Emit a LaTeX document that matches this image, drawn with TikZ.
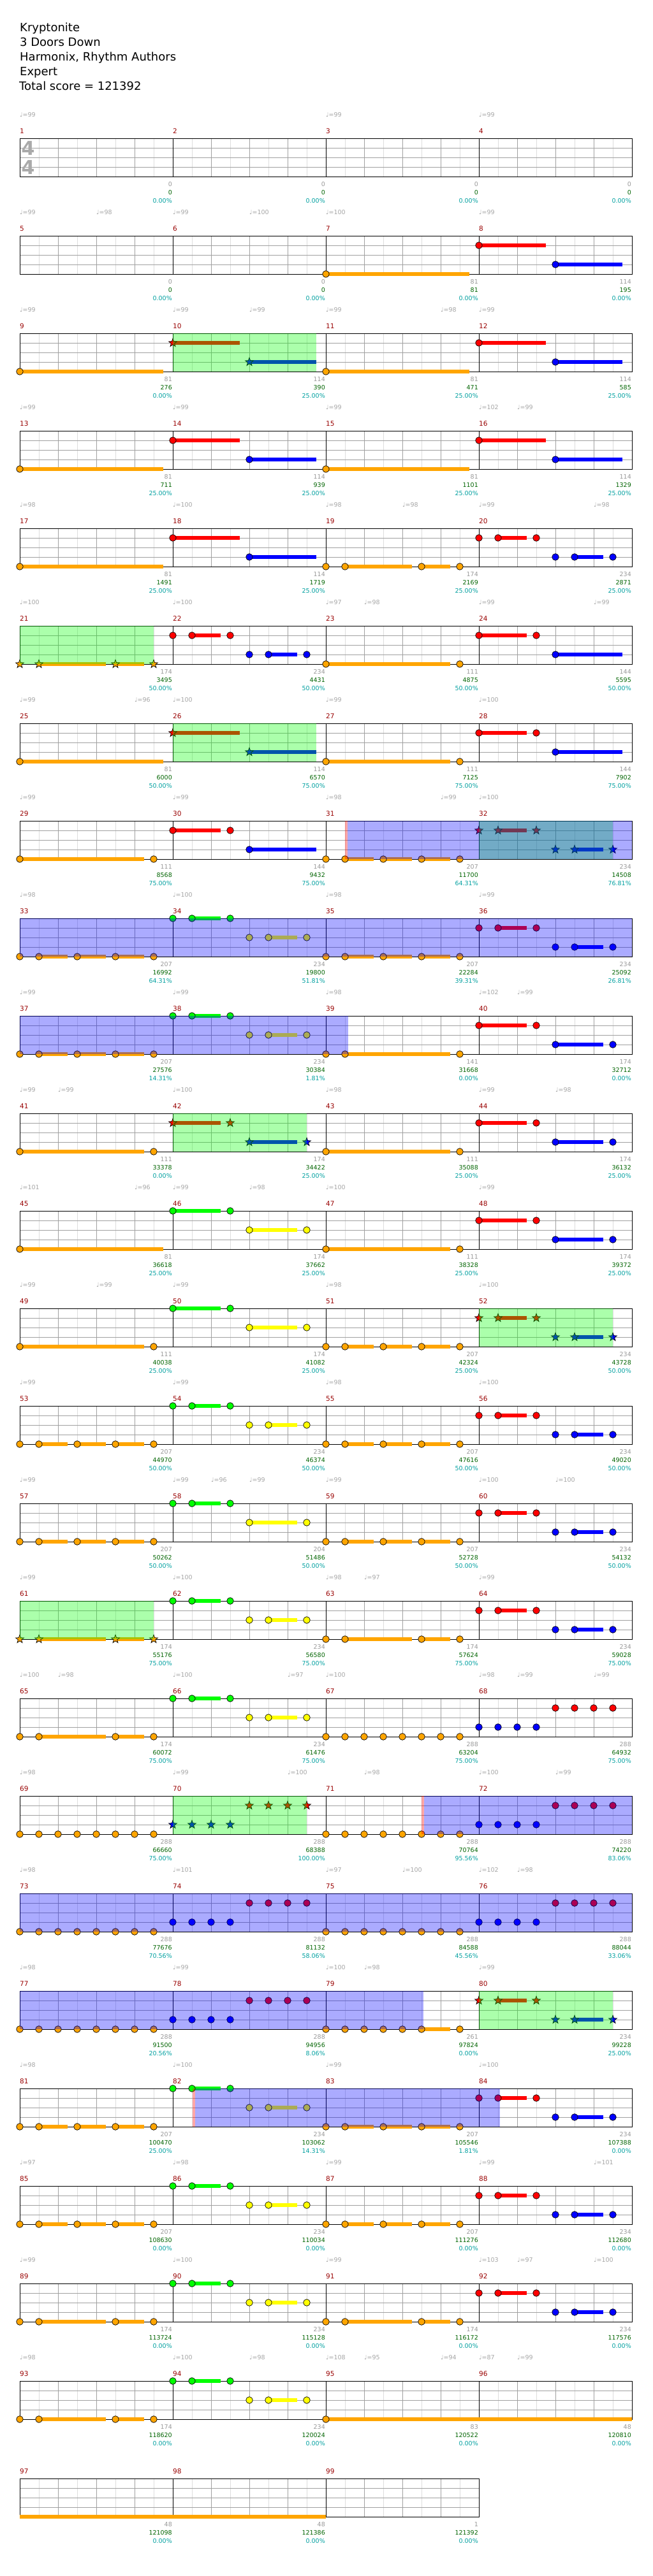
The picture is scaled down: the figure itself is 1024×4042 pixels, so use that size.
\documentclass[tikz,border=0pt]{standalone}
\usepackage{fontspec}
\setmainfont{DejaVu Sans}
\usepackage{xcolor}
\usepackage{tikz}
\definecolor{lane0}{HTML}{00FF00}
\definecolor{lane1}{HTML}{FF0000}
\definecolor{lane2}{HTML}{FFFF00}
\definecolor{lane3}{HTML}{0000FF}
\definecolor{lane4}{HTML}{FFA500}
\definecolor{GridDark}{HTML}{A0A0A0}
\definecolor{GridLight}{HTML}{DDDDDD}
\definecolor{MeasRed}{HTML}{990000}
\definecolor{TempoGray}{HTML}{A6A6A6}
\definecolor{CountGray}{HTML}{999999}
\definecolor{ScoreGreen}{HTML}{006400}
\definecolor{PctTeal}{HTML}{00A0A0}
\definecolor{SigGray}{HTML}{AAAAAA}

% measure k -> left edge \mx, staff top \my
\newcommand{\setmeas}[1]{%
  \pgfmathtruncatemacro\mrow{(#1-1)/4}%
  \pgfmathtruncatemacro\mcol{#1-1-4*\mrow}%
  \pgfmathsetmacro\mx{31+240*\mcol}%
  \pgfmathsetmacro\my{217+153*\mrow}}
\newcommand{\meas}[2]{\setmeas{#1}#2}
% note head, star head, sustain (position in eighths, lane 0-4)
\newcommand{\nt}[2]{\filldraw[notehead,fill=lane#2] (\mx+30*#1,\my+15*#2) circle[radius=5.3pt];}
\newcommand{\st}[2]{\filldraw[notehead,fill=lane#2,shift={(\mx+30*#1,\my+15*#2)}]
  plot[samples at={0,...,9}] ({-90-36*\x}:{6.8-4*mod(\x,2)}) -- cycle;}
\newcommand{\sus}[3]{\fill[lane#2] (\mx+30*#1,\my+15*#2-3.4) rectangle (\mx+30*#3,\my+15*#2+3.4);}
% one staff row with #2 measures
\newcommand{\staffrow}[2]{%
  \pgfmathsetmacro\ry{217+153*#1}%
  \pgfmathsetmacro\rx{31+240*#2}%
  \pgfmathtruncatemacro\nl{8*#2-1}%
  \foreach \i in {1,3,...,\nl} \draw[gridlight] (31+30*\i,\ry) -- ++(0,60);
  \foreach \i in {2,4,...,\nl} \draw[griddark] (31+30*\i,\ry) -- ++(0,60);
  \foreach \l in {1,2,3} \draw[griddark] (31,\ry+15*\l) -- (\rx,\ry+15*\l);
  \foreach \m in {1,...,#2} \draw[barline] (31+240*\m,\ry) -- ++(0,60);
  \draw[barline] (31,\ry) rectangle (\rx,\ry+60);}
% highlighted spans: row, x from, x to
\newcommand{\odrive}[3]{\fill[lane0,opacity=0.33] (#2,217+153*#1) rectangle (#3,277+153*#1);}
\newcommand{\spower}[3]{\fill[lane3,opacity=0.33] (#2,217+153*#1) rectangle (#3,277+153*#1);}
\newcommand{\spstart}[2]{\fill[lane1,opacity=0.35] (#2-4,217+153*#1) rectangle (#2,277+153*#1);}

% note patterns
\newcommand{\pOlong}{\sus{0}{4}{7.5}\nt{0}{4}}
\newcommand{\pOsix}{\sus{0}{4}{6.5}\nt{0}{4}\nt{7}{4}}
\newcommand{\pRBa}[1]{\sus{0}{1}{3.5}\sus{4}{3}{7.5}#1{0}{1}#1{4}{3}}
\newcommand{\pRBb}{\sus{0}{1}{2.5}\sus{4}{3}{7.5}\nt{0}{1}\nt{3}{1}\nt{4}{3}}
\newcommand{\pRBc}[1]{\sus{0}{1}{2.5}\sus{4}{3}{6.5}#1{0}{1}#1{3}{1}#1{4}{3}#1{7}{3}}
\newcommand{\pGYc}{\sus{0}{0}{2.5}\sus{4}{2}{6.5}\nt{0}{0}\nt{3}{0}\nt{4}{2}\nt{7}{2}}
\newcommand{\pOfour}{\sus{1}{4}{2.5}\sus{3}{4}{4.5}\sus{5}{4}{6.5}\nt{0}{4}\nt{1}{4}\nt{3}{4}\nt{5}{4}\nt{7}{4}}
\newcommand{\pOthree}[1]{\sus{1}{4}{4.5}\sus{5}{4}{6.5}#1{0}{4}#1{1}{4}#1{5}{4}#1{7}{4}}
\newcommand{\pRBfull}[1]{\sus{1}{1}{2.5}\sus{5}{3}{6.5}#1{0}{1}#1{1}{1}#1{3}{1}#1{4}{3}#1{5}{3}#1{7}{3}}
\newcommand{\pGYfull}{\sus{1}{0}{2.5}\sus{5}{2}{6.5}\nt{0}{0}\nt{1}{0}\nt{3}{0}\nt{4}{2}\nt{5}{2}\nt{7}{2}}
\newcommand{\pOeight}{\foreach \p in {0,...,7}{\nt{\p}{4}}}
\newcommand{\pBReight}[1]{\foreach \p in {0,...,3}{#1{\p}{3}}\foreach \p in {4,...,7}{#1{\p}{1}}}

\tikzset{
  gridlight/.style={draw=GridLight, line width=1pt},
  griddark/.style={draw=GridDark, line width=1pt},
  barline/.style={draw=black, line width=1pt},
  notehead/.style={draw=black, line width=0.7pt},
  titletext/.style={font=\fontsize{18}{22}\selectfont, anchor=base west, inner sep=0pt},
  measnum/.style={font=\fontsize{10.5}{11}\selectfont, text=MeasRed, anchor=west, inner sep=0pt},
  tempo/.style={font=\fontsize{9.5}{10}\selectfont, text=TempoGray, anchor=west, inner sep=0pt},
  foot/.style={font=\fontsize{9.5}{10}\selectfont, anchor=east, inner sep=0pt},
  timesig/.style={font=\fontsize{30}{30}\selectfont\bfseries, text=SigGray, inner sep=0pt}
}

\begin{document}
\begin{tikzpicture}[x=1pt,y=-1pt]
\fill[white] (0,0) rectangle (1024,4042);
\useasboundingbox (0,0) rectangle (1024,4042);

% header
\node[titletext] (song) at (31,49) {Kryptonite};
\node[titletext] (artist) at (31,72) {3 Doors Down};
\node[titletext] (charter) at (31,95) {Harmonix, Rhythm Authors};
\node[titletext] (level) at (31,118) {Expert};
\node[titletext] (total) at (30,141) {Total score = 121392};

% staves
\foreach \r in {0,...,23} {\staffrow{\r}{4}}
\staffrow{24}{3}
\node[timesig] (sigtop) at (44,233) {4};
\node[timesig] (sigbot) at (44,263) {4};

% notes
\meas{7}{\pOlong}      \meas{8}{\pRBa{\nt}}
\meas{9}{\pOlong}      \meas{10}{\pRBa{\st}}
\meas{11}{\pOlong}     \meas{12}{\pRBa{\nt}}
\meas{13}{\pOlong}     \meas{14}{\pRBa{\nt}}
\meas{15}{\pOlong}     \meas{16}{\pRBa{\nt}}
\meas{17}{\pOlong}     \meas{18}{\pRBa{\nt}}
\meas{19}{\pOthree{\nt}} \meas{20}{\pRBfull{\nt}}
\meas{21}{\pOthree{\st}} \meas{22}{\pRBfull{\nt}}
\meas{23}{\pOsix}      \meas{24}{\pRBb}
\meas{25}{\pOlong}     \meas{26}{\pRBa{\st}}
\meas{27}{\pOsix}      \meas{28}{\pRBb}
\meas{29}{\pOsix}      \meas{30}{\pRBb}
\meas{31}{\pOfour}     \meas{32}{\pRBfull{\st}}
\meas{33}{\pOfour}     \meas{34}{\pGYfull}
\meas{35}{\pOfour}     \meas{36}{\pRBfull{\nt}}
\meas{37}{\pOfour}     \meas{38}{\pGYfull}
\meas{39}{\sus{1}{4}{6.5}\nt{0}{4}\nt{1}{4}\nt{7}{4}}
\meas{40}{\pRBc{\nt}}
\meas{41}{\pOsix}      \meas{42}{\pRBc{\st}}
\meas{43}{\pOsix}      \meas{44}{\pRBc{\nt}}
\meas{45}{\pOlong}     \meas{46}{\pGYc}
\meas{47}{\pOsix}      \meas{48}{\pRBc{\nt}}
\meas{49}{\pOsix}      \meas{50}{\pGYc}
\meas{51}{\pOfour}     \meas{52}{\pRBfull{\st}}
\meas{53}{\pOfour}     \meas{54}{\pGYfull}
\meas{55}{\pOfour}     \meas{56}{\pRBfull{\nt}}
\meas{57}{\pOfour}
\meas{58}{\sus{1}{0}{2.5}\sus{4}{2}{6.5}\nt{0}{0}\nt{1}{0}\nt{3}{0}\nt{4}{2}\nt{7}{2}}
\meas{59}{\pOfour}     \meas{60}{\pRBfull{\nt}}
\meas{61}{\pOthree{\st}} \meas{62}{\pGYfull}
\meas{63}{\pOthree{\nt}} \meas{64}{\pRBfull{\nt}}
\meas{65}{\pOthree{\nt}} \meas{66}{\pGYfull}
\meas{67}{\pOeight}    \meas{68}{\pBReight{\nt}}
\meas{69}{\pOeight}    \meas{70}{\pBReight{\st}}
\meas{71}{\pOeight}    \meas{72}{\pBReight{\nt}}
\meas{73}{\pOeight}    \meas{74}{\pBReight{\nt}}
\meas{75}{\pOeight}    \meas{76}{\pBReight{\nt}}
\meas{77}{\pOeight}    \meas{78}{\pBReight{\nt}}
\meas{79}{\sus{5}{4}{6.5}\foreach \p in {0,...,5}{\nt{\p}{4}}\nt{7}{4}}
\meas{80}{\pRBfull{\st}}
\meas{81}{\pOfour}     \meas{82}{\pGYfull}
\meas{83}{\pOfour}     \meas{84}{\pRBfull{\nt}}
\meas{85}{\pOfour}     \meas{86}{\pGYfull}
\meas{87}{\pOfour}     \meas{88}{\pRBfull{\nt}}
\meas{89}{\pOthree{\nt}} \meas{90}{\pGYfull}
\meas{91}{\pOthree{\nt}} \meas{92}{\pRBfull{\nt}}
\meas{93}{\pOthree{\nt}} \meas{94}{\pGYfull}
\meas{95}{\sus{0}{4}{16}\nt{0}{4}}
\meas{97}{\sus{0}{4}{16}}

% overdrive and star power spans
\odrive{2}{271}{496}  \odrive{5}{31}{241}   \odrive{6}{271}{496}
\odrive{7}{751}{961}  \odrive{10}{271}{481} \odrive{12}{751}{961}
\odrive{15}{31}{241}  \odrive{17}{271}{481} \odrive{19}{751}{961}
\spower{7}{545}{991}  \spower{8}{31}{991}   \spower{9}{31}{546}
\spower{17}{665}{991} \spower{18}{31}{991}  \spower{19}{31}{664}
\spower{20}{306}{784}
\spstart{7}{545} \spstart{17}{665} \spstart{20}{306}

% measure numbers and running counts
\foreach \k/\nc/\sc/\pc in {1/0/0/0.00, 2/0/0/0.00, 3/0/0/0.00, 4/0/0/0.00, 5/0/0/0.00,
  6/0/0/0.00, 7/81/81/0.00, 8/114/195/0.00, 9/81/276/0.00, 10/114/390/25.00,
  11/81/471/25.00, 12/114/585/25.00, 13/81/711/25.00, 14/114/939/25.00, 15/81/1101/25.00,
  16/114/1329/25.00, 17/81/1491/25.00, 18/114/1719/25.00, 19/174/2169/25.00, 20/234/2871/25.00,
  21/174/3495/50.00, 22/234/4431/50.00, 23/111/4875/50.00, 24/144/5595/50.00, 25/81/6000/50.00,
  26/114/6570/75.00, 27/111/7125/75.00, 28/144/7902/75.00, 29/111/8568/75.00, 30/144/9432/75.00,
  31/207/11700/64.31, 32/234/14508/76.81, 33/207/16992/64.31, 34/234/19800/51.81, 35/207/22284/39.31,
  36/234/25092/26.81, 37/207/27576/14.31, 38/234/30384/1.81, 39/141/31668/0.00, 40/174/32712/0.00,
  41/111/33378/0.00, 42/174/34422/25.00, 43/111/35088/25.00, 44/174/36132/25.00, 45/81/36618/25.00,
  46/174/37662/25.00, 47/111/38328/25.00, 48/174/39372/25.00, 49/111/40038/25.00, 50/174/41082/25.00,
  51/207/42324/25.00, 52/234/43728/50.00, 53/207/44970/50.00, 54/234/46374/50.00, 55/207/47616/50.00,
  56/234/49020/50.00, 57/207/50262/50.00, 58/204/51486/50.00, 59/207/52728/50.00, 60/234/54132/50.00,
  61/174/55176/75.00, 62/234/56580/75.00, 63/174/57624/75.00, 64/234/59028/75.00, 65/174/60072/75.00,
  66/234/61476/75.00, 67/288/63204/75.00, 68/288/64932/75.00, 69/288/66660/75.00, 70/288/68388/100.00,
  71/288/70764/95.56, 72/288/74220/83.06, 73/288/77676/70.56, 74/288/81132/58.06, 75/288/84588/45.56,
  76/288/88044/33.06, 77/288/91500/20.56, 78/288/94956/8.06, 79/261/97824/0.00, 80/234/99228/25.00,
  81/207/100470/25.00, 82/234/103062/14.31, 83/207/105546/1.81, 84/234/107388/0.00, 85/207/108630/0.00,
  86/234/110034/0.00, 87/207/111276/0.00, 88/234/112680/0.00, 89/174/113724/0.00, 90/234/115128/0.00,
  91/174/116172/0.00, 92/234/117576/0.00, 93/174/118620/0.00, 94/234/120024/0.00, 95/83/120522/0.00,
  96/48/120810/0.00, 97/48/121098/0.00, 98/48/121386/0.00, 99/1/121392/0.00} {
  \setmeas{\k}
  \node[measnum] (num\k) at (\mx,\my-11) {\k};
  \node[foot, text=CountGray] (cnt\k) at (\mx+239,\my+72) {\nc};
  \node[foot, text=ScoreGreen] (score\k) at (\mx+239,\my+85) {\sc};
  \node[foot, text=PctTeal] (pct\k) at (\mx+239,\my+98) {\pc\%};
}

% tempo marks: measure / eighth / bpm
\foreach \k/\p/\t [count=\j] in {1/0/99, 3/0/99, 4/0/99,
  5/0/99, 5/4/98, 6/0/99, 6/4/100, 7/0/100, 8/0/99,
  9/0/99, 10/0/99, 10/4/99, 11/0/99, 11/6/98, 12/0/99,
  13/0/99, 14/0/99, 15/0/99, 16/0/102, 16/2/99,
  17/0/98, 18/0/100, 19/0/98, 19/4/98, 20/0/99, 20/6/98,
  21/0/100, 22/0/100, 23/0/97, 23/2/98, 24/0/99, 24/6/99,
  25/0/99, 25/6/96, 26/0/100, 27/0/99, 28/0/100,
  29/0/99, 30/0/99, 31/0/98, 31/6/99, 32/0/100,
  33/0/98, 34/0/100, 35/0/98, 36/0/99,
  37/0/99, 38/0/99, 39/0/98, 40/0/102, 40/2/99,
  41/0/99, 41/2/99, 42/0/100, 43/0/98, 44/0/99, 44/4/98,
  45/0/101, 45/6/96, 46/0/99, 46/4/98, 47/0/100, 48/0/99,
  49/0/99, 49/4/99, 50/0/99, 51/0/98, 52/0/100,
  53/0/99, 54/0/99, 55/0/98, 56/0/100,
  57/0/99, 58/0/99, 58/2/96, 58/4/99, 59/0/99, 60/0/100, 60/4/100,
  61/0/99, 62/0/100, 63/0/98, 63/2/97, 64/0/99,
  65/0/100, 65/2/98, 66/0/100, 66/6/97, 67/0/100, 68/0/98, 68/2/99, 68/6/99,
  69/0/98, 70/0/99, 70/6/100, 71/2/98, 72/0/100, 72/4/99,
  73/0/98, 74/0/101, 75/0/97, 75/4/100, 76/0/102, 76/2/98,
  77/0/98, 78/0/99, 79/0/100, 79/2/98, 80/0/99,
  81/0/98, 82/0/100, 83/0/99, 84/0/100,
  85/0/97, 86/0/98, 87/0/99, 88/0/99, 88/6/101,
  89/0/99, 90/0/100, 91/0/99, 92/0/103, 92/2/97, 92/6/100,
  93/0/98, 94/0/100, 94/4/98, 95/0/108, 95/2/95, 95/6/94, 96/0/87, 96/2/99} {
  \setmeas{\k}
  \node[tempo] (tempo\j) at (\mx+30*\p,\my-37) {♩=\t};
}
\end{tikzpicture}
\end{document}
